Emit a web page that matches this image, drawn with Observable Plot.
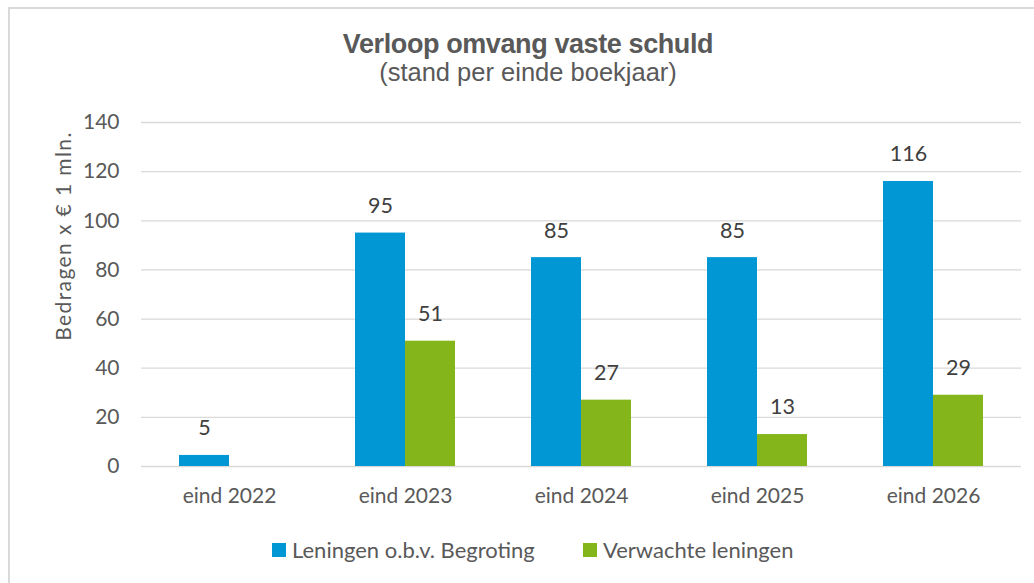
<!DOCTYPE html>
<html>
<head>
<meta charset="utf-8">
<script src="https://cdn.jsdelivr.net/npm/d3@7"></script>
<script src="https://cdn.jsdelivr.net/npm/@observablehq/plot@0.6"></script>
<style>
  html, body { margin: 0; padding: 0; background: #fff; }
  #wrap { position: relative; width: 1034px; height: 583px; overflow: hidden; background: #fff; }
  #border { position: absolute; left: 8px; top: 7px; width: 1100px; height: 700px; border: 2px solid #d9d9d9; box-sizing: border-box; }
  #title { position: absolute; left: 0; width: 1056px; top: 29px; text-align: center; font-family: "Liberation Sans", Arial, sans-serif; font-weight: bold; font-size: 27px; letter-spacing: -0.4px; color: #595959; line-height: 1.15; }
  #subtitle { position: absolute; left: 0; width: 1056px; top: 58px; text-align: center; font-family: "Liberation Sans", Arial, sans-serif; font-size: 25.5px; color: #595959; line-height: 1.15; }
  #chart { position: absolute; left: 0; top: 0; }
  #ylabel { position: absolute; left: 62px; top: 236px; transform: translate(-50%, -50%) rotate(-90deg); white-space: nowrap; font-family: Lato, sans-serif; font-size: 21px; letter-spacing: 1.4px; color: #595959; }
  #legend { position: absolute; top: 0; left: 0; font-family: Lato, sans-serif; font-size: 22px; color: #595959; }
  .sw { width: 14px; height: 14px; display: inline-block; margin-right: 6px; }
  .item { position: absolute; top: 537px; display: flex; align-items: center; white-space: nowrap; line-height: 26px; }
</style>
</head>
<body>
<div id="wrap">
  <div id="border"></div>
  <div id="chart"></div>
  <div id="title">Verloop omvang vaste schuld</div>
  <div id="subtitle">(stand per einde boekjaar)</div>
  <div id="ylabel">Bedragen x € 1 mln.</div>
  <div id="legend"></div>
</div>
<script>
const categories = ["eind 2022", "eind 2023", "eind 2024", "eind 2025", "eind 2026"];
const seriesNames = ["Leningen o.b.v. Begroting", "Verwachte leningen"];
const seriesColors = ["#0097d4", "#84b61c"];
const begroting = [4.5, 95, 85, 85, 116];
const verwacht = [null, 51, 27, 13, 29];
const yTicks = [0, 20, 40, 60, 80, 100, 120, 140];

const data = [];
categories.forEach((c, i) => {
  if (begroting[i] != null) data.push({cat: c, series: seriesNames[0], value: begroting[i]});
  if (verwacht[i] != null) data.push({cat: c, series: seriesNames[1], value: verwacht[i]});
});

const fontFamily = "Lato, sans-serif";
const gap = 38; // half of the gap between groups, in px

const chart = Plot.plot({
  width: 1034,
  height: 520,
  marginTop: 122,
  marginBottom: 54,
  marginLeft: 140,
  marginRight: 13,
  style: { fontFamily, fontSize: "21px", color: "#595959", background: "transparent" },
  fx: { domain: categories, paddingInner: 0.432, paddingOuter: 0.216, label: null },
  x: { domain: seriesNames, padding: 0, axis: null },
  y: { domain: [0, 140], ticks: yTicks, label: null, axis: null },
  color: { domain: seriesNames, range: seriesColors },
  marks: [
    Plot.ruleY(yTicks, { stroke: "#d9d9d9", strokeWidth: 1.3, insetLeft: -gap, insetRight: -gap }),
    Plot.axisY({ ticks: yTicks, tickSize: 0, tickPadding: 22 + gap, label: null, fill: "#595959", fontSize: 21 }),
    Plot.axisFx({ anchor: "bottom", tickSize: 0, tickPadding: 22, label: null, fontSize: 21, fill: "#595959" }),
    Plot.barY(data, { fx: "cat", x: "series", y: "value", fill: "series" }),
    Plot.text(data, { fx: "cat", x: "series", y: "value", text: d => d3.format(".0f")(d.value), dy: -27, fill: "#404040", fontSize: 21.5 })
  ]
});
document.getElementById("chart").appendChild(chart);

const legend = document.getElementById("legend");
const legendLeft = [272, 583];
seriesNames.forEach((s, i) => {
  const item = document.createElement("div");
  item.className = "item";
  item.style.left = legendLeft[i] + "px";
  const sw = document.createElement("span");
  sw.className = "sw";
  sw.style.background = seriesColors[i];
  item.appendChild(sw);
  item.appendChild(document.createTextNode(s));
  legend.appendChild(item);
});
</script>
</body>
</html>
